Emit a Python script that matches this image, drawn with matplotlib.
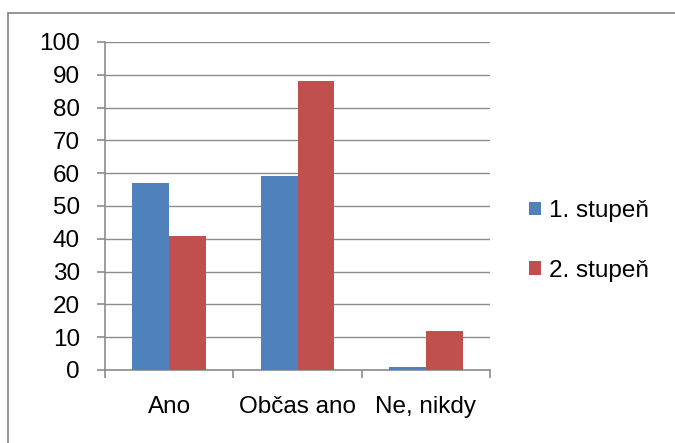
import numpy as np
import matplotlib.pyplot as plt
from matplotlib.patches import Rectangle

# data
categories = ["Ano", "Občas ano", "Ne, nikdy"]
series_names = ["1. stupeň", "2. stupeň"]
stupen1 = [57, 59, 1]
stupen2 = [41, 88, 12]
colors = ["#4F81BD", "#C0504D"]

plt.rcParams['font.family'] = ['Liberation Sans', 'DejaVu Sans']

fig = plt.figure(figsize=(6.75, 4.43), dpi=100)
ax = fig.add_axes([105/675, 1-370/443, (490-105)/675, (370-42)/443])

# outer chart border (only left/top visible in the crop)
fig.patches.append(Rectangle((8/675, -0.05), 1.2, 1-13/443+0.05, transform=fig.transFigure,
                             fill=False, edgecolor="#8c8c8c", lw=1.3, zorder=-10))

x = np.arange(len(categories))
wbar = 0.286
ax.bar(x - wbar/2, stupen1, width=wbar, color=colors[0], label=series_names[0], zorder=3)
ax.bar(x + wbar/2, stupen2, width=wbar, color=colors[1], label=series_names[1], zorder=3)

ax.set_xlim(-0.5, len(categories) - 0.5)
ax.set_ylim(0, 100)
ax.set_yticks(np.arange(0, 101, 10))
ax.yaxis.grid(True, color="#8c8c8c", lw=1.0, zorder=0)
ax.set_axisbelow(True)

# major ticks at category boundaries, labels on minor ticks at centres
ax.set_xticks(np.arange(-0.5, len(categories), 1.0))
ax.set_xticklabels([])
ax.set_xticks(x, minor=True)
ax.set_xticklabels(categories, minor=True, fontsize=17.5)
ax.tick_params(axis="x", which="major", length=6, width=1.2, color="#8c8c8c")
ax.tick_params(axis="x", which="minor", length=0, pad=19)
ax.tick_params(axis="y", length=6, width=1.2, color="#8c8c8c", labelsize=17.5, pad=12)

for s in ["top", "right"]:
    ax.spines[s].set_visible(False)
for s in ["left", "bottom"]:
    ax.spines[s].set_color("#8c8c8c")
    ax.spines[s].set_linewidth(1.2)

ax.legend(loc="center left", bbox_to_anchor=(517/675, 1-241/443), bbox_transform=fig.transFigure,
          frameon=False, fontsize=17.5, handlelength=0.5, handleheight=0.5,
          handletextpad=0.3, labelspacing=1.55, borderpad=0)

plt.savefig("out.png", dpi=100)
